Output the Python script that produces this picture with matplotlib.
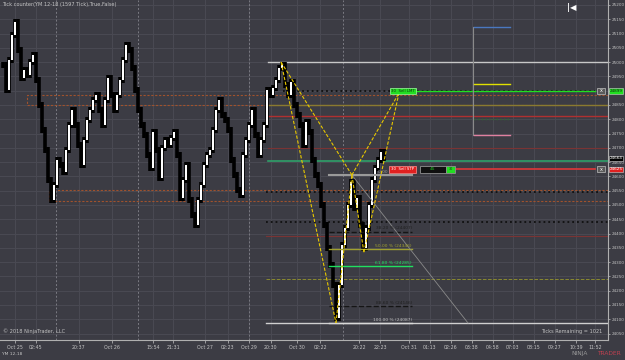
import numpy as np
import matplotlib.pyplot as plt
from matplotlib.patches import Rectangle
from matplotlib.transforms import blended_transform_factory

# closing prices, one bar every 3 px
closes = [24990, 24903, 25008, 25095, 25141, 25043, 24945, 24973, 24955, 25000,
          25025, 24938, 24850, 24763, 24693, 24588, 24518, 24570, 24658, 24640,
          24615, 24693, 24780, 24833, 24780, 24710, 24640, 24728, 24798, 24833,
          24868, 24885, 24833, 24780, 24868, 24945, 24885, 24833, 24885, 24938,
          25008, 25060, 25043, 24980, 24903, 24833, 24780, 24745, 24675, 24630,
          24755, 24693, 24595, 24700, 24728, 24710, 24735, 24755, 24675, 24525,
          24588, 24640, 24518, 24465, 24430, 24518, 24570, 24640, 24675, 24693,
          24763, 24833, 24868, 24815, 24798, 24763, 24658, 24605, 24553, 24535,
          24675, 24728, 24780, 24833, 24745, 24675, 24728, 24780, 24903, 24885,
          24910, 24938, 24980, 24990, 24920, 24885, 24930, 24850, 24815, 24780,
          24710, 24790, 24755, 24658, 24605, 24570, 24500, 24430, 24350, 24290,
          24220, 24105, 24220, 24360, 24420, 24500, 24580, 24490, 24525, 24430,
          24350, 24420, 24500, 24588, 24630, 24658, 24685, 24664]

price_ticks = list(range(24050, 25201, 50))
hidden_ticks = [24900]  # covered by the order marker
time_pos = [4, 11, 25.3, 36.3, 50, 56.7, 67.3, 75, 82, 89.3, 98, 105.7, 118.7,
            125.7, 135.3, 142.3, 149.3, 156.3, 163.3, 170, 177, 184, 191, 197.3]
time_labels = ["Oct 25", "02:45", "20:37", "Oct 26", "15:54", "21:31", "Oct 27",
               "02:23", "Oct 29", "20:30", "Oct 30", "02:22", "20:22", "22:23",
               "Oct 31", "01:13", "02:26", "03:38", "04:58", "07:03", "08:15",
               "09:27", "10:39", "11:52"]
session_breaks = [17.7, 45, 82, 113.3]

# horizontal levels: price, start bar, end bar, color, linestyle, width
levels = [
    (25000, 88.3, 201.7, '#c8c8c8', '-', 1.0),
    (24850, 88.3, 201.7, '#8a7a30', '-', 1.0),
    (24810, 88.3, 201.7, '#b03030', '-', 1.0),
    (24700, 88.3, 201.7, '#7a3434', '-', 0.8),
    (24655, 88.3, 201.7, '#2fa06a', '-', 1.2),
    (24545, 87.7, 201.7, '#101010', ':', 1.3),
    (24440, 87.7, 201.7, '#101010', ':', 1.3),
    (24391, 87.7, 201.7, '#7a3434', '-', 0.8),
    (24241, 87.7, 201.7, '#8a8a30', '--', 0.7),
    (24087, 87.7, 201.7, '#d0d0d0', '-', 1.0),
    (24899, 93.3, 197.3, '#101010', ':', 1.3),
    (24899, 137.7, 197.3, '#20e020', '-', 1.0),
    (24625, 150.7, 197.3, '#e03838', '-', 1.2),
]
# dashed zone boxes: left bar, top price, bottom price
zones = [(8, 24885, 24850), (15.3, 24551, 24514)]

# fibonacci retracement
fib_high, fib_low = 24605, 24087
fib_ratios = [0.0, 0.382, 0.5, 0.618, 0.886, 1.0]
fib_colors = ['#9a9a9a', '#151515', '#a0a030', '#20e060', '#151515', '#d8d8d8']
fib_text_colors = ['#9a9a9a', '#202020', '#a0a030', '#20e060', '#202020', '#c0c0c0']
fib_styles = ['-', '--', '-', '-', '--', '-']
fib_x0, fib_x1 = 108.7, 136.3

# harmonic pattern points (bar, price)
pat_x = [92.7, 111, 116.3, 120.3, 132]
pat_y = [25000, 24087, 24605, 24335, 24892]
pattern_legs = [(0, 1), (1, 2), (0, 2), (2, 3), (3, 4), (2, 4)]

# box in upper right
box_bar = 156.7
box_seg = (157, 169)
box_levels = [(25123, '#4a78c0', '-'), (24923, '#e0e000', '-'),
              (24801, '#2f6a2f', ':'), (24745, '#e080a0', '-')]

bg = '#3c3c44'
grid = '#4a4a53'
txt = '#c4c4c4'
wick = 10  # wick extension beyond body, in points of price

fig = plt.figure(figsize=(6.25, 3.6), dpi=100, facecolor=bg)
ax = fig.add_axes([0, 20 / 360, 608 / 625, 340 / 360], facecolor=bg)
ax.set_xlim(-1, 201.67)
ax.set_ylim(24027.5, 25217.5)

# grid
for p in price_ticks:
    ax.axhline(p, color=grid, lw=0.7, zorder=0)
for t in time_pos:
    ax.axvline(t, color=grid, lw=0.7, zorder=0)
for t in session_breaks:
    ax.axvline(t, color='#7a7a82', lw=0.7, ls=(0, (2, 2)), zorder=0)

# zones
for x0, top, bot in zones:
    ax.plot([201.7, x0, x0, 201.7], [top, top, bot, bot], color='#a0522d',
            lw=0.8, ls=(0, (2, 1.5)), zorder=1)

# levels
for p, x0, x1, c, ls, lw in levels:
    ax.plot([x0, x1], [p, p], color=c, ls=ls, lw=lw, zorder=2)

# candles
n = len(closes)
xs = np.arange(n)
opens = np.array([closes[0]] + closes[:-1])
cl = np.array(closes)
lo = np.minimum(opens, cl)
hi = np.maximum(opens, cl)
ax.vlines(xs, lo - wick, hi + wick, color='black', lw=2.6, zorder=3)
up = cl >= opens
ax.bar(xs[up], (cl - opens)[up], bottom=opens[up], width=0.35, color='white',
       edgecolor='none', zorder=4)
ax.bar(xs[~up], (opens - cl)[~up], bottom=cl[~up], width=0.3, color='#6a6a6a',
       edgecolor='none', zorder=4)

# fib
for r, c, tc, ls in zip(fib_ratios, fib_colors, fib_text_colors, fib_styles):
    p = fib_high - r * (fib_high - fib_low)
    ax.plot([fib_x0, fib_x1], [p, p], color=c, ls=ls, lw=1.5 if r == 0 else 1.0, zorder=5)
    ax.text(fib_x1, p + 5, f"{r * 100:.2f} % ({p:.0f})", color=tc, fontsize=3.2,
            ha='right', va='bottom', zorder=6)

# gray projection line
ax.plot([116.3, 155], [24605, 24087], color='#8a8a8a', lw=0.6, zorder=5)

# pattern
for a, b in pattern_legs:
    ax.plot([pat_x[a], pat_x[b]], [pat_y[a], pat_y[b]], color='#e8c800', lw=0.8,
            ls=(0, (3, 1.5)), zorder=6)

# upper right box
ax.plot([box_bar, box_bar], [box_levels[0][0], box_levels[-1][0]], color='#8a8a8a', lw=0.8, zorder=2)
for p, c, ls in box_levels:
    ax.plot(box_seg, [p, p], color=c, ls=ls, lw=1.0, zorder=2)

# order labels
ax.add_patch(Rectangle((129, 24887), 8.7, 24, facecolor='#22dd22', edgecolor='#a0ffa0', lw=0.5, zorder=7))
ax.text(133.3, 24899, "30  Sell LMT", fontsize=2.8, color='#103010', ha='center', va='center', zorder=8)
ax.add_patch(Rectangle((128.7, 24613), 9, 24, facecolor='#e02020', edgecolor='#ff9090', lw=0.5, zorder=7))
ax.text(133.2, 24625, "30  Sell STP", fontsize=2.8, color='white', ha='center', va='center', zorder=8)
ax.add_patch(Rectangle((139, 24612), 8.7, 26, facecolor='#101010', edgecolor='#909090', lw=0.6, zorder=7))
ax.text(143.3, 24625, "45", fontsize=3.2, color='#20c020', ha='center', va='center', zorder=8)
ax.add_patch(Rectangle((147.7, 24612), 3, 26, facecolor='#22dd22', edgecolor='#909090', lw=0.6, zorder=7))
ax.text(149.2, 24625, "30", fontsize=2.4, color='#103010', ha='center', va='center', zorder=8)
for p in (24899, 24625):
    ax.add_patch(Rectangle((198, p - 11), 2.6, 22, facecolor='#5a5a5a', edgecolor='#c0c0c0', lw=0.5, zorder=7))
    ax.text(199.3, p, "x", fontsize=3.5, color='white', ha='center', va='center', zorder=8)

# axes styling
for s in ('top', 'left'):
    ax.spines[s].set_visible(False)
ax.spines['right'].set_color('#b0b0b0')
ax.spines['bottom'].set_color('#b0b0b0')
ax.yaxis.tick_right()
ax.set_yticks(price_ticks)
ax.set_yticklabels(["" if p in hidden_ticks else str(p) for p in price_ticks])
ax.tick_params(axis='y', colors=txt, labelsize=3.0, length=1.5, width=0.5, pad=1)
ax.set_xticks(time_pos)
ax.set_xticklabels(time_labels)
ax.tick_params(axis='x', colors=txt, labelsize=3.4, length=2, width=0.5, pad=1.5)

# price markers on axis
trans = blended_transform_factory(ax.transAxes, ax.transData)
for p, fc, tc in [(24899, '#20e020', '#102010'), (24664, '#000000', 'white'), (24625, '#e02020', 'white')]:
    ax.text(1.002, p, str(p), transform=trans, fontsize=3.0, color=tc, ha='left', va='center',
            bbox=dict(boxstyle='square,pad=0.15', facecolor=fc, edgecolor='#d0d0d0', lw=0.4),
            zorder=10, clip_on=False)

# texts
ax.text(0.004, 0.993, "Tick counter(YM 12-18 (1597 Tick),True,False)", transform=ax.transAxes,
        fontsize=3.6, color=txt, ha='left', va='top')
ax.text(0.005, 0.018, "\u00a9 2018 NinjaTrader, LLC", transform=ax.transAxes,
        fontsize=3.6, color=txt, ha='left', va='bottom')
ax.text(0.99, 0.018, "Ticks Remaining = 1021", transform=ax.transAxes,
        fontsize=3.6, color=txt, ha='right', va='bottom')
fig.text(0.003, 0.012, "YM 12-18", fontsize=3.2, color=txt, ha='left', va='bottom')
fig.text(0.915, 0.012, "NINJA", fontsize=4.2, color='#9a9a9a', ha='left', va='bottom')
fig.text(0.955, 0.012, "TRADER", fontsize=4.2, color='#c04050', ha='left', va='bottom')
fig.text(572 / 625, 1 - 8 / 360, "|\u25c0", fontsize=6, color='white', ha='center', va='center',
         fontweight='bold')

fig.savefig('out.png', dpi=100, facecolor=bg)
